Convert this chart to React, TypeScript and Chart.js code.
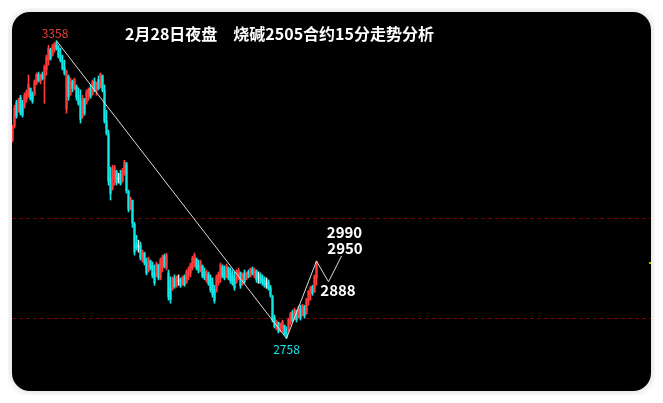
import { useEffect, useRef } from 'react';
import { Chart, registerables } from 'chart.js';

Chart.register(...registerables);

const FONT = '"Noto Sans CJK SC", "Noto Sans", sans-serif';
const RED = '#ff3c3c';
const CYAN = '#12e8e8';
const WHITE = '#f2f2f2';

const titleText = '2月28日夜盘　烧碱2505合约15分走势分析';

const candleOpen = [
  3158, 3186, 3234, 3216, 3244, 3230, 3226, 3240, 3248, 3262,
  3250, 3250, 3272, 3290, 3276, 3290, 3282, 3300, 3320, 3340,
  3329, 3340, 3352, 3344, 3328, 3318, 3304, 3220, 3286, 3250,
  3276, 3262, 3266, 3248, 3236, 3206, 3240, 3234, 3250, 3262,
  3250, 3276, 3256, 3280, 3264, 3288, 3258, 3196, 3170, 3080,
  3060, 3080, 3095, 3080, 3090, 3075, 3092, 3110, 3054, 3020,
  3036, 2988, 2950, 2944, 2946, 2916, 2930, 2912, 2894, 2914,
  2904, 2890, 2884, 2906, 2880, 2900, 2924, 2900, 2890, 2860,
  2858, 2880, 2864, 2874, 2878, 2866, 2882, 2870, 2884, 2890,
  2900, 2910, 2918, 2906, 2896, 2904, 2892, 2876, 2888, 2880,
  2870, 2856, 2854, 2870, 2880, 2902, 2894, 2884, 2900, 2890,
  2886, 2880, 2872, 2880, 2890, 2868, 2890, 2878, 2892, 2884,
  2898, 2884, 2894, 2880, 2886, 2880, 2876, 2868, 2872, 2860,
  2842, 2800, 2778, 2790, 2774, 2780, 2784, 2770, 2772, 2790,
  2810, 2796, 2814, 2800, 2818, 2804, 2822, 2808, 2834, 2848,
  2862, 2852, 2880,
];
const candleHigh = [
  3188, 3228, 3238, 3242, 3248, 3238, 3253, 3259, 3289, 3263,
  3255, 3279, 3293, 3295, 3291, 3295, 3309, 3329, 3349, 3343,
  3351, 3355, 3358, 3349, 3343, 3329, 3319, 3299, 3289, 3283,
  3279, 3283, 3269, 3263, 3259, 3248, 3242, 3259, 3263, 3269,
  3279, 3283, 3275, 3287, 3293, 3289, 3269, 3218, 3178, 3103,
  3107, 3107, 3097, 3091, 3097, 3101, 3117, 3113, 3057, 3043,
  3037, 2992, 2966, 2956, 2952, 2936, 2932, 2920, 2922, 2916,
  2912, 2906, 2912, 2908, 2920, 2926, 2928, 2930, 2896, 2882,
  2882, 2886, 2884, 2886, 2880, 2884, 2886, 2896, 2902, 2910,
  2924, 2930, 2920, 2916, 2916, 2906, 2900, 2896, 2892, 2886,
  2880, 2865, 2886, 2892, 2910, 2906, 2904, 2908, 2902, 2900,
  2896, 2892, 2896, 2900, 2892, 2890, 2896, 2892, 2896, 2900,
  2902, 2900, 2896, 2892, 2890, 2886, 2882, 2880, 2876, 2865,
  2845, 2805, 2795, 2791, 2789, 2795, 2785, 2781, 2799, 2811,
  2815, 2819, 2815, 2823, 2825, 2827, 2825, 2839, 2855, 2863,
  2865, 2886, 2914,
];
const candleLow = [
  3154, 3182, 3202, 3214, 3208, 3204, 3222, 3234, 3244, 3238,
  3232, 3248, 3269, 3275, 3271, 3279, 3232, 3289, 3309, 3319,
  3327, 3335, 3339, 3323, 3315, 3299, 3289, 3212, 3238, 3248,
  3255, 3259, 3238, 3228, 3192, 3202, 3208, 3230, 3238, 3242,
  3248, 3255, 3248, 3259, 3263, 3255, 3192, 3168, 3067, 3037,
  3057, 3067, 3067, 3071, 3067, 3073, 3087, 3051, 3013, 3017,
  2982, 2926, 2936, 2932, 2916, 2912, 2906, 2886, 2892, 2896,
  2880, 2865, 2882, 2876, 2876, 2892, 2900, 2896, 2835, 2829,
  2855, 2859, 2861, 2865, 2861, 2865, 2863, 2869, 2876, 2882,
  2896, 2902, 2896, 2890, 2892, 2880, 2876, 2871, 2865, 2851,
  2841, 2829, 2851, 2865, 2871, 2880, 2876, 2880, 2876, 2869,
  2865, 2855, 2869, 2876, 2859, 2865, 2869, 2876, 2880, 2882,
  2886, 2880, 2871, 2869, 2869, 2865, 2861, 2859, 2855, 2841,
  2791, 2779, 2775, 2769, 2771, 2771, 2765, 2758, 2771, 2785,
  2791, 2795, 2791, 2799, 2795, 2803, 2799, 2807, 2825, 2835,
  2845, 2851, 2865,
];
const candleClose = [
  3184, 3222, 3206, 3238, 3212, 3208, 3248, 3255, 3270, 3242,
  3236, 3275, 3290, 3278, 3288, 3282, 3305, 3325, 3343, 3322,
  3347, 3352, 3342, 3326, 3318, 3302, 3292, 3296, 3245, 3278,
  3262, 3280, 3244, 3232, 3200, 3242, 3212, 3255, 3260, 3246,
  3275, 3258, 3272, 3262, 3290, 3258, 3196, 3172, 3075, 3050,
  3100, 3104, 3072, 3080, 3070, 3096, 3114, 3056, 3018, 3040,
  2990, 2932, 2940, 2944, 2920, 2932, 2910, 2890, 2918, 2900,
  2884, 2870, 2908, 2880, 2916, 2922, 2904, 2926, 2842, 2836,
  2878, 2862, 2880, 2874, 2864, 2880, 2866, 2892, 2898, 2906,
  2920, 2926, 2900, 2894, 2912, 2884, 2880, 2892, 2868, 2856,
  2846, 2834, 2882, 2888, 2906, 2884, 2880, 2904, 2880, 2874,
  2868, 2860, 2892, 2896, 2864, 2886, 2872, 2890, 2882, 2898,
  2888, 2896, 2876, 2880, 2872, 2868, 2864, 2868, 2858, 2845,
  2795, 2782, 2792, 2772, 2786, 2792, 2768, 2762, 2796, 2808,
  2794, 2816, 2796, 2820, 2800, 2824, 2804, 2836, 2852, 2860,
  2850, 2882, 2912,
];

// trend line: from the high candle to the low candle
const trendIdx = [22, 137];
const trendPrice = [3358, 2758];
// projected zigzag after the low
const zigIdx = [137, 152, 158, 164.5];
const zigPrice = [2758, 2914, 2872, 2924];
// dashed reference levels
const gridLevels = [3000, 2800];
// current price marker on the right edge
const markerIdx = [318.3, 319.25];
const markerPrice = [2910, 2910];

const highLabel = '3358';
const lowLabel = '2758';
const targetLabels = ['2990', '2950', '2888'];

const X_MIN = -0.25;
const X_MAX = 319.25;
const Y_MIN = 2652;
const Y_MAX = 3416;

export default function App() {
  const ref = useRef<HTMLCanvasElement>(null);

  useEffect(() => {
    if (!ref.current) return;
    const idx = candleOpen.map((_, i) => i);
    const colors = idx.map((i) =>
      candleClose[i] > candleOpen[i] ? RED : candleClose[i] < candleOpen[i] ? CYAN : WHITE
    );
    const wick = idx.map((i) => ({ x: i, y: [candleLow[i], candleHigh[i]] }));
    const body = idx.map((i) => ({
      x: i,
      y: [Math.min(candleOpen[i], candleClose[i]), Math.max(candleOpen[i], candleClose[i])],
    }));
    const trend = trendIdx.map((x, k) => ({ x, y: trendPrice[k] }));
    const zig = zigIdx.map((x, k) => ({ x, y: zigPrice[k] }));
    const marker = markerIdx.map((x, k) => ({ x, y: markerPrice[k] }));

    const overlay = {
      id: 'overlay',
      beforeDatasetsDraw(chart: any) {
        const { ctx, chartArea, scales } = chart;
        ctx.save();
        ctx.strokeStyle = '#780000';
        ctx.lineWidth = 1;
        ctx.setLineDash([4, 3]);
        gridLevels.forEach((v) => {
          const py = Math.round(scales.y.getPixelForValue(v)) + 0.5;
          ctx.beginPath();
          ctx.moveTo(chartArea.left, py);
          ctx.lineTo(chartArea.right, py);
          ctx.stroke();
        });
        ctx.restore();
      },
      afterDraw(chart: any) {
        const { ctx, scales } = chart;
        const X = (v: number) => scales.x.getPixelForValue(v);
        const Y = (v: number) => scales.y.getPixelForValue(v);
        ctx.save();
        ctx.textBaseline = 'middle';
        // title
        ctx.fillStyle = '#ffffff';
        ctx.font = `bold 16px ${FONT}`;
        ctx.textAlign = 'left';
        ctx.fillText(titleText, 113, 22);
        // high / low labels
        ctx.textAlign = 'center';
        ctx.font = `12px ${FONT}`;
        ctx.fillStyle = '#e8403a';
        ctx.fillText(highLabel, X(trendIdx[0]) - 1.5, Y(trendPrice[0]) - 7);
        ctx.fillStyle = CYAN;
        ctx.fillText(lowLabel, X(trendIdx[1]), Y(trendPrice[1]) + 11);
        // target labels
        ctx.fillStyle = '#ffffff';
        ctx.font = `bold 15px ${FONT}`;
        const endX = X(zigIdx[3]);
        const endY = Y(zigPrice[3]);
        ctx.fillText(targetLabels[0], endX + 3, endY - 24);
        ctx.fillText(targetLabels[1], endX + 3.5, endY - 7.5);
        ctx.fillText(targetLabels[2], X(zigIdx[2]) + 9.5, Y(zigPrice[2]) + 8);
        ctx.restore();
      },
    };

    const chart = new Chart(ref.current, {
      type: 'bar',
      data: {
        datasets: [
          {
            type: 'line',
            data: trend,
            borderColor: '#dcdcdc',
            borderWidth: 1,
            pointRadius: 0,
            order: 0,
          } as any,
          {
            type: 'line',
            data: zig,
            borderColor: '#dcdcdc',
            borderWidth: 1,
            pointRadius: 0,
            order: 0,
          } as any,
          {
            type: 'line',
            data: marker,
            borderColor: '#ffff00',
            borderWidth: 1.5,
            pointRadius: 0,
            order: 0,
          } as any,
          {
            type: 'bar',
            data: wick,
            backgroundColor: colors,
            borderWidth: 0,
            barThickness: 1,
            grouped: false,
            order: 2,
          } as any,
          {
            type: 'bar',
            data: body,
            backgroundColor: colors,
            borderWidth: 0,
            barThickness: 1.5,
            grouped: false,
            order: 1,
          } as any,
        ],
      },
      options: {
        animation: false,
        responsive: false,
        maintainAspectRatio: false,
        events: [],
        layout: { padding: 0 },
        scales: {
          x: { type: 'linear', min: X_MIN, max: X_MAX, offset: false, display: false },
          y: { min: Y_MIN, max: Y_MAX, display: false },
        },
        plugins: {
          legend: { display: false },
          tooltip: { enabled: false },
        },
      },
      plugins: [overlay],
    });
    return () => chart.destroy();
  }, []);

  return (
    <div style={{ padding: '4px' }}>
      <div
        style={{
          width: 639,
          height: 379,
          background: '#000',
          borderRadius: 18,
          overflow: 'hidden',
          boxShadow: '0 0 10px rgba(0,0,0,0.18)',
        }}
      >
        <canvas ref={ref} width={639} height={379} style={{ display: 'block' }} />
      </div>
    </div>
  );
}
